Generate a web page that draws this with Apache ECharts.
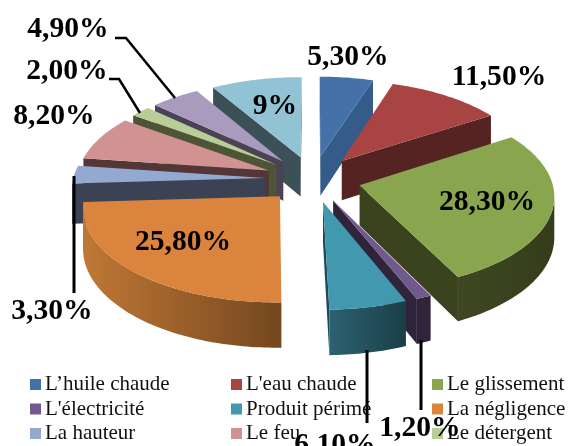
<!DOCTYPE html>
<html><head><meta charset="utf-8">
<style>html,body{margin:0;padding:0;background:#fff}#c{width:569px;height:446px}</style>
<script src="https://cdn.jsdelivr.net/npm/echarts@6/dist/echarts.min.js"></script>
</head><body><div id="c"></div>
<script>
const categories = ["L’huile chaude","L'eau chaude","Le glissement","L'électricité","Produit périmé","La négligence","La hauteur","Le feu","Le détergent","Autre 1","Autre 2"];
const values = [5.3,11.5,28.3,1.2,6.1,25.8,3.3,8.2,2.0,4.9,9];
const valueLabels = ["5,30%","11,50%","28,30%","1,20%","6,10%","25,80%","3,30%","8,20%","2,00%","4,90%","9%"];
const legendColumns = [[0,3,6],[1,4,7],[2,5,8]];

// styling (not data)
const topColors  = ["#4472A8","#A84543","#89A54E","#71588F","#4198AF","#DB843D","#93A9CF","#D19392","#B9CD96","#A99BBD","#92C3D4"];
const wallColors = ["#355B88","#562323","#3A421E","#2F2439","#1F4A57","#7A4A20","#3A4253","#533637","#4D5536","#4B4256","#3B5057"];
const arcWall = {2:["#3F4822","#343C1B"],3:["#2F2439","#2F2439"],4:["#2C6272","#1A3E47"],5:["#C07835","#74471F"],6:["#3A4253","#3A4253"],7:["#533637","#533637"]};
const labelPos = [[348,57],[499,77],[487,202],[420,428],[335,445],[183,242],[52,311],[54,116],[67,71],[68,29],[275,106]];
const leaders = {9:[[115,38],[126,38],[175,98]],8:[[109,79],[119,79],[140,113]],6:[[74,176],[74,293]],4:[[367,350],[367,423]],3:[[421,340],[421,410]]};
const legendX = [30,231,432];

// projection of the pie plane
const cx=313, cy=179, R=192, K=92.1, P=0.0984, H=40, EXPLODE=48/192;
function proj(X,Y,Z){const w=1+P*Y;return [cx+R*X/w, cy+(-K*Y+H*Z)/w];}

const total = values.reduce((a,b)=>a+b,0);
let acc=0;
const slices = values.map((v,i)=>{
  const a0=acc/total*2*Math.PI; acc+=v; const a1=acc/total*2*Math.PI;
  const mid=(a0+a1)/2;
  return {i,a0,a1,mid,ox:EXPLODE*Math.sin(mid),oy:EXPLODE*Math.cos(mid)};
});
function polygon(points,fill){
  return {type:'polygon',shape:{points},style:{fill,stroke:null},silent:true};
}
function sliceShape(s){
  const n=Math.max(3,Math.ceil((s.a1-s.a0)/0.02));
  const rim=[];
  for(let j=0;j<=n;j++){const a=s.a0+(s.a1-s.a0)*j/n;rim.push([s.ox+Math.sin(a),s.oy+Math.cos(a)]);}
  const apex=[s.ox,s.oy];
  const top=[proj(apex[0],apex[1],0)].concat(rim.map(p=>proj(p[0],p[1],0)));
  const bot=[proj(apex[0],apex[1],1)].concat(rim.map(p=>proj(p[0],p[1],1)));
  const kids=[];
  const wall=wallColors[s.i];
  // radial walls are visible when the clockwise edge runs leftwards on screen
  if(top[1][0]<top[0][0]) kids.push(polygon([top[0],top[1],bot[1],bot[0]],wall));
  if(top[0][0]<top[n+1][0]) kids.push(polygon([top[n+1],top[0],bot[0],bot[n+1]],wall));
  // rim wall
  const up=[],dn=[];
  for(let j=1;j<=n+1;j++){
    const visible=(j<=n&&top[j+1][0]<top[j][0])||(j>1&&top[j][0]<top[j-1][0]);
    if(visible){up.push(top[j]);dn.push(bot[j]);}
  }
  if(up.length>1){
    const c=arcWall[s.i]||[wall,wall];
    kids.push(polygon(up.concat(dn.reverse()),{type:'linear',x:0,y:0,x2:1,y2:0,colorStops:[{offset:0,color:c[0]},{offset:1,color:c[1]}]}));
  }
  kids.push(polygon(top,topColors[s.i]));
  return kids;
}
// paint rear slices first
const order = slices.slice().sort((a,b)=>b.oy-a.oy);
const series = order.map((s,k)=>({
  type:'custom',name:categories[s.i],coordinateSystem:'none',z:2+k*0.01,
  itemStyle:{color:topColors[s.i]},silent:true,
  data:[[values[s.i]]],
  renderItem:()=>({type:'group',children:sliceShape(s)})
}));

const graphics=[];
Object.keys(leaders).forEach(k=>graphics.push({type:'polyline',z:50,silent:true,shape:{points:leaders[k]},style:{stroke:'#000',lineWidth:k==='6'||k==='4'||k==='3'?3:2.5,fill:null}}));
valueLabels.forEach((t,i)=>graphics.push({type:'text',z:60,silent:true,x:labelPos[i][0],y:labelPos[i][1],
  style:{text:t,font:'bold 29.6px "Liberation Serif"',fill:'#000',textAlign:'center',textVerticalAlign:'middle'}}));

const legend=legendColumns.map((col,i)=>({
  show:true,orient:'vertical',left:legendX[i],top:374,padding:0,itemGap:3.5,itemWidth:11,itemHeight:11,icon:'rect',
  selectedMode:false,data:col.map(j=>categories[j]),
  textStyle:{fontFamily:'Liberation Serif',fontSize:21,color:'#111',padding:[0,0,0,-1]}
}));

const chart=echarts.init(document.getElementById('c'),null,{renderer:'canvas'});
chart.setOption({animation:false,backgroundColor:'#fff',legend,series,graphic:graphics});
</script></body></html>
